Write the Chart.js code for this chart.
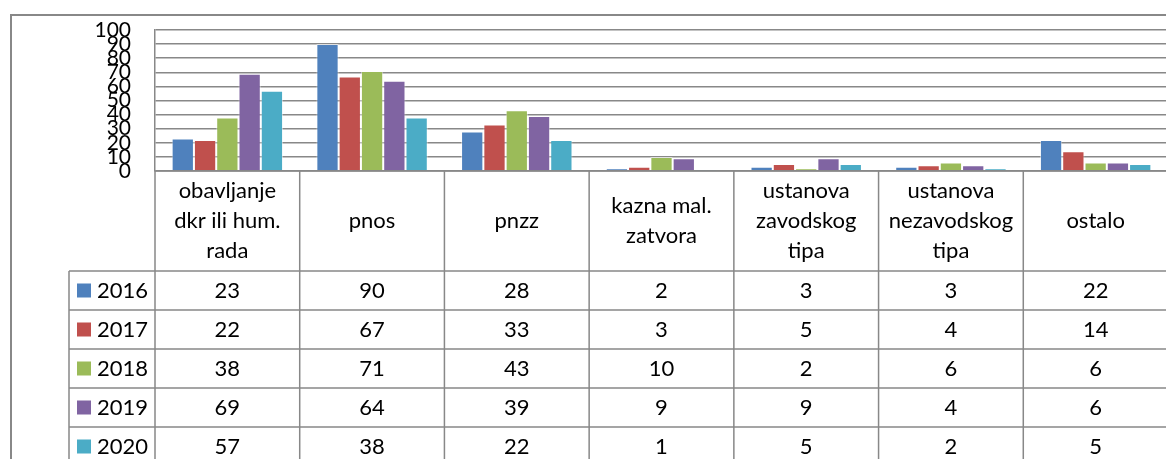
<!DOCTYPE html>
<html>
<head>
<meta charset="utf-8">
<script src="https://cdn.jsdelivr.net/npm/chart.js@4"></script>
<style>
  body { margin: 0; background: #fff; overflow: hidden; }
</style>
</head>
<body>
<canvas id="myChart" width="1168" height="459"></canvas>
<script>
// categories (header lines) and yearly series
var categories = [
    ['obavljanje', 'dkr ili hum.', 'rada'],
    ['pnos'],
    ['pnzz'],
    ['kazna mal.', 'zatvora'],
    ['ustanova', 'zavodskog', 'tipa'],
    ['ustanova', 'nezavodskog', 'tipa'],
    ['ostalo']
];
var years = ['2016', '2017', '2018', '2019', '2020'];
var v2016 = [23, 90, 28, 2, 3, 3, 22];
var v2017 = [22, 67, 33, 3, 5, 4, 14];
var v2018 = [38, 71, 43, 10, 2, 6, 6];
var v2019 = [69, 64, 39, 9, 9, 4, 6];
var v2020 = [57, 38, 22, 1, 5, 2, 5];
var colors = ['#4F81BD', '#C0504D', '#9BBB59', '#8064A2', '#4BACC6'];
var yTicks = [0, 10, 20, 30, 40, 50, 60, 70, 80, 90, 100];

var lineColor = '#888888';
var seriesValues = [v2016, v2017, v2018, v2019, v2020];

// draws the chart frame and the data table under the plot
var dataTable = {
    id: 'dataTable',
    afterDraw: function(chart){
        var ctx = chart.ctx;
        var area = chart.chartArea;
        var xs = chart.scales.x;
        var w = (area.right - area.left) / categories.length;
        var headerBottom = area.bottom + 100;
        var rowH = 39;
        var legendLeft = 69;
        var bottom = chart.height + 5;

        ctx.save();
        ctx.strokeStyle = lineColor;

        // outer frame
        ctx.lineWidth = 2;
        ctx.beginPath();
        ctx.moveTo(11, bottom);
        ctx.lineTo(11, 15);
        ctx.lineTo(chart.width, 15);
        ctx.stroke();

        ctx.lineWidth = 1.5;
        ctx.beginPath();
        // axis line / header top
        ctx.moveTo(area.left, area.bottom);
        ctx.lineTo(chart.width, area.bottom);
        // vertical boundaries
        for (var i = 0; i <= categories.length; i++) {
            var bx = area.left + i * w;
            ctx.moveTo(bx, area.bottom);
            ctx.lineTo(bx, bottom);
        }
        ctx.moveTo(legendLeft, headerBottom);
        ctx.lineTo(legendLeft, bottom);
        // row lines
        for (var r = 0; r < years.length; r++) {
            var ry = headerBottom + r * rowH;
            ctx.moveTo(legendLeft, ry);
            ctx.lineTo(chart.width, ry);
        }
        ctx.stroke();

        ctx.fillStyle = '#000';
        ctx.font = '22px Lato';
        ctx.textAlign = 'center';
        ctx.textBaseline = 'middle';

        var headerMid = (area.bottom + headerBottom) / 2;
        for (var c = 0; c < categories.length; c++) {
            var cx = xs.getPixelForValue(c);
            var lines = categories[c];
            for (var l = 0; l < lines.length; l++) {
                var ly = headerMid + (l - (lines.length - 1) / 2) * 30;
                ctx.fillText(lines[l], cx, ly);
            }
            for (var s = 0; s < years.length; s++) {
                var sy = headerBottom + s * rowH + rowH / 2;
                ctx.fillText(String(seriesValues[s][c]), cx, sy);
            }
        }

        ctx.textAlign = 'left';
        for (var k = 0; k < years.length; k++) {
            var ky = headerBottom + k * rowH + rowH / 2;
            ctx.fillStyle = colors[k];
            ctx.fillRect(77, ky - 7, 14, 14);
            ctx.fillStyle = '#000';
            ctx.fillText(years[k], 97, ky);
        }
        ctx.restore();
    }
};

var datasets = [];
for (var d = 0; d < years.length; d++) {
    datasets.push({
        label: years[d],
        data: seriesValues[d],
        backgroundColor: colors[d],
        borderColor: 'rgba(255,255,255,0.5)',
        borderWidth: 1
    });
}

var ctx = document.getElementById('myChart').getContext('2d');
var myChart = new Chart(ctx, {
    type: 'bar',
    data: {
        labels: categories.map(function(c){ return c.join(' '); }),
        datasets: datasets
    },
    options: {
        responsive: false,
        animation: false,
        layout: { padding: { left: 0, right: 0, top: 30, bottom: 288 } },
        plugins: { legend: { display: false }, tooltip: { enabled: false } },
        datasets: { bar: { categoryPercentage: 0.77, barPercentage: 1 } },
        scales: {
            x: { display: false },
            y: {
                min: yTicks[0],
                max: yTicks[yTicks.length - 1],
                afterFit: function(scale){
                    scale.width = 155;
                    scale.paddingTop = 0;
                    scale.paddingBottom = 0;
                },
                ticks: {
                    stepSize: 10,
                    autoSkip: false,
                    padding: 24,
                    color: '#000',
                    font: { family: 'Lato', size: 21 }
                },
                grid: { color: lineColor, lineWidth: 1.5, drawTicks: false },
                border: { display: true, color: lineColor, width: 1.5 }
            }
        }
    },
    plugins: [dataTable]
});
</script>
</body>
</html>
